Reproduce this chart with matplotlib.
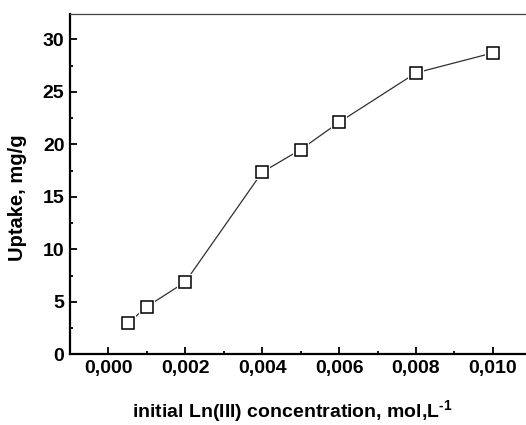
import numpy as np
import matplotlib
matplotlib.use("Agg")
import matplotlib.pyplot as plt
from matplotlib.ticker import MultipleLocator, FuncFormatter

# datos
conc = [0.0005, 0.001, 0.002, 0.004, 0.005, 0.006, 0.008, 0.010]  # mol/L
uptake = [2.95, 4.55, 6.9, 17.35, 19.5, 22.1, 26.8, 28.7]         # mg/g

x_ticks = [0.000, 0.002, 0.004, 0.006, 0.008, 0.010]
y_ticks = [0, 5, 10, 15, 20, 25, 30]

plt.rcParams['font.family'] = ['Liberation Sans', 'DejaVu Sans']
plt.rcParams['mathtext.fontset'] = 'custom'
plt.rcParams['mathtext.rm'] = 'Liberation Sans:bold'
plt.rcParams['mathtext.default'] = 'rm'

fig = plt.figure(figsize=(5.26, 4.25), dpi=100)
ax = fig.add_axes([0.133, 0.166, 0.867, 0.801])

# linea fina y marcadores cuadrados con hueco (estilo Origin)
ax.plot(conc, uptake, '-', color='#303030', lw=0.9, zorder=2)
ax.plot(conc, uptake, 's', ms=12, mfc='white', mec='white', mew=0, zorder=3)
ax.plot(conc, uptake, 's', ms=8.3, mfc='white', mec='black', mew=1.1, zorder=4)

ax.set_xlim(-0.001, 0.01086)
ax.set_ylim(0, 32.4)
ax.set_xticks(x_ticks)
ax.set_yticks(y_ticks)
ax.xaxis.set_minor_locator(MultipleLocator(0.001))
ax.yaxis.set_minor_locator(MultipleLocator(2.5))
ax.xaxis.set_major_formatter(FuncFormatter(lambda v, p: f"{v:.3f}".replace('.', ',')))

ax.tick_params(which='both', direction='in', top=False, right=False, labelsize=14, width=1.3)
ax.tick_params(which='major', length=5, pad=4)
ax.tick_params(which='minor', length=2.5)
for lab in ax.get_xticklabels() + ax.get_yticklabels():
    lab.set_fontweight('bold')

ax.spines['left'].set_linewidth(1.6)
ax.spines['bottom'].set_linewidth(1.6)
ax.spines['top'].set_linewidth(0.9)
ax.spines['top'].set_color('#404040')
ax.spines['right'].set_visible(False)

ax.set_xlabel(r'initial Ln(III) concentration, mol,L$^{\text{-1}}$', fontsize=14, fontweight='bold')
ax.set_ylabel('Uptake, mg/g', fontsize=14.5, fontweight='bold')
ax.xaxis.set_label_coords(0.487, -0.129)
ax.yaxis.set_label_coords(-0.094, 0.46)

fig.savefig('out.png', dpi=100)
